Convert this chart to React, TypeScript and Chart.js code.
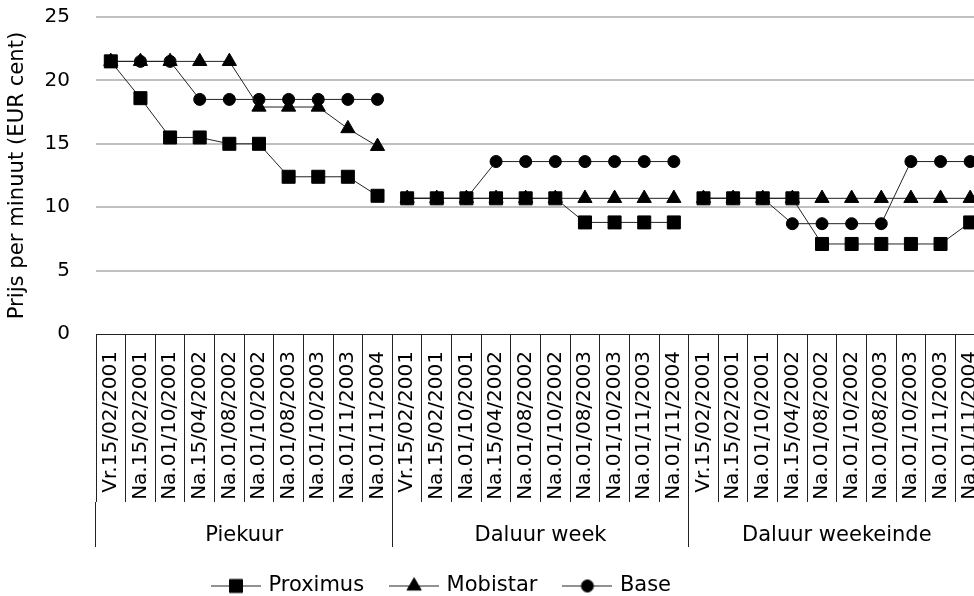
import React, { useEffect, useRef } from 'react';
import { Chart, registerables } from 'chart.js';
import { drawPoint } from 'chart.js/helpers';

Chart.register(...registerables);

// ---- data ----
const dateLabels = [
  'Vr.15/02/2001',
  'Na.15/02/2001',
  'Na.01/10/2001',
  'Na.15/04/2002',
  'Na.01/08/2002',
  'Na.01/10/2002',
  'Na.01/08/2003',
  'Na.01/10/2003',
  'Na.01/11/2003',
  'Na.01/11/2004',
];
const groupLabels = ['Piekuur', 'Daluur week', 'Daluur weekeinde'];
const categories = [...dateLabels, ...dateLabels, ...dateLabels];

const proximus = [
  21.5, 18.6, 15.5, 15.5, 15.0, 15.0, 12.4, 12.4, 12.4, 10.9,
  10.7, 10.7, 10.7, 10.7, 10.7, 10.7, 8.8, 8.8, 8.8, 8.8,
  10.7, 10.7, 10.7, 10.7, 7.1, 7.1, 7.1, 7.1, 7.1, 8.8,
];
const mobistar = [
  21.5, 21.5, 21.5, 21.5, 21.5, 17.9, 17.9, 17.9, 16.2, 14.8,
  10.7, 10.7, 10.7, 10.7, 10.7, 10.7, 10.7, 10.7, 10.7, 10.7,
  10.7, 10.7, 10.7, 10.7, 10.7, 10.7, 10.7, 10.7, 10.7, 10.7,
];
const base = [
  21.5, 21.5, 21.5, 18.5, 18.5, 18.5, 18.5, 18.5, 18.5, 18.5,
  10.7, 10.7, 10.7, 13.6, 13.6, 13.6, 13.6, 13.6, 13.6, 13.6,
  10.7, 10.7, 10.7, 8.7, 8.7, 8.7, 8.7, 13.6, 13.6, 13.6,
];
const yMin = 0;
const yMax = 25;
const yStep = 5;
const yTitle = 'Prijs per minuut (EUR cent)';

// ---- styles ----
const FONT = 'DejaVu Sans';
const LINE_COLOR = '#222222';
const GROUP_SIZE = dateLabels.length;

const seriesStyles = [
  { label: 'Proximus', data: proximus, pointStyle: 'rect', radius: 9.2 },
  { label: 'Mobistar', data: mobistar, pointStyle: 'triangle', radius: 8.2 },
  { label: 'Base', data: base, pointStyle: 'circle', radius: 6 },
];

function makeLegendIcon(pointStyle: string, radius: number): HTMLCanvasElement {
  const c = document.createElement('canvas');
  c.width = 50;
  c.height = 20;
  const ctx = c.getContext('2d')!;
  ctx.strokeStyle = LINE_COLOR;
  ctx.lineWidth = 1;
  ctx.beginPath();
  ctx.moveTo(0, 10.5);
  ctx.lineTo(50, 10.5);
  ctx.stroke();
  ctx.fillStyle = '#000';
  ctx.strokeStyle = '#000';
  ctx.lineWidth = 1;
  drawPoint(ctx, { pointStyle, radius, rotation: 0, borderWidth: 1 } as any, 25, 10.5);
  return c;
}

const legendCenterPlugin = {
  id: 'legendCenter',
  afterLayout(chart: any) {
    const lg = chart.legend;
    if (!lg) return;
    const half = (lg.right - lg.left) / 2;
    const center = 442.5;
    lg.left = center - half;
    lg.right = center + half;
  },
};

export default function App() {
  const ref = useRef<HTMLCanvasElement | null>(null);

  useEffect(() => {
    if (!ref.current) return;
    const icons = seriesStyles.map((s) => makeLegendIcon(s.pointStyle, s.radius));
    const chart = new Chart(ref.current, {
      type: 'line',
      data: {
        labels: categories,
        datasets: seriesStyles.map((s) => ({
          label: s.label,
          data: s.data,
          borderColor: LINE_COLOR,
          borderWidth: 1,
          tension: 0,
          fill: false,
          pointStyle: s.pointStyle as any,
          pointRadius: s.radius,
          pointHoverRadius: s.radius,
          pointBackgroundColor: '#000',
          pointBorderColor: '#000',
          pointBorderWidth: 1,
          segment: {
            borderColor: (ctx: any) =>
              ctx.p1DataIndex % GROUP_SIZE === 0 ? 'rgba(0,0,0,0)' : LINE_COLOR,
          },
        })),
      },
      options: {
        animation: false,
        responsive: true,
        maintainAspectRatio: false,
        layout: { padding: { left: 0, right: 15, top: 17, bottom: 0 } },
        plugins: {
          tooltip: { enabled: false },
          legend: {
            position: 'bottom',
            labels: {
              usePointStyle: true,
              pointStyleWidth: 44,
              padding: 28,
              color: '#000',
              font: { family: FONT, size: 21 },
              generateLabels: (ch: any) =>
                ch.data.datasets.map((ds: any, i: number) => ({
                  text: ds.label,
                  pointStyle: icons[i],
                  fillStyle: '#000',
                  strokeStyle: '#000',
                  lineWidth: 0,
                  hidden: false,
                  datasetIndex: i,
                  fontColor: '#000',
                })),
            },
          },
        },
        scales: {
          x: {
            type: 'category',
            position: 'bottom',
            weight: 0,
            offset: true,
            grid: {
              display: true,
              drawOnChartArea: false,
              offset: true,
              tickLength: 168,
              color: LINE_COLOR,
              lineWidth: 1,
            },
            border: { display: true, color: LINE_COLOR, width: 1 },
            ticks: {
              autoSkip: false,
              minRotation: 90,
              maxRotation: 90,
              padding: -151,
              color: '#000',
              font: { family: FONT, size: 20 },
            },
            afterFit: (s: any) => {
              s.height = 168;
            },
          },
          x2: {
            type: 'category',
            position: 'bottom',
            weight: 1,
            labels: groupLabels,
            offset: true,
            grid: {
              display: true,
              drawOnChartArea: false,
              offset: true,
              tickLength: 45,
              color: LINE_COLOR,
              lineWidth: 1,
            },
            border: { display: false },
            ticks: {
              autoSkip: false,
              minRotation: 0,
              maxRotation: 0,
              padding: -24,
              color: '#000',
              font: { family: FONT, size: 21 },
            },
            afterFit: (s: any) => {
              s.height = 45;
            },
          },
          y: {
            min: yMin,
            max: yMax,
            ticks: {
              stepSize: yStep,
              padding: 0,
              color: '#000',
              font: { family: FONT, size: 20 },
            },
            grid: {
              color: (ctx: any) => (ctx.tick && ctx.tick.value === 0 ? 'rgba(0,0,0,0)' : '#c0c0c0'),
              lineWidth: 2,
              drawTicks: true,
              tickLength: 26,
              tickColor: 'rgba(0,0,0,0)',
            },
            border: { display: false },
            title: {
              display: true,
              text: yTitle,
              color: '#000',
              font: { family: FONT, size: 21.2 },
              padding: { top: 5, bottom: 0 },
            },
            afterFit: (s: any) => {
              s.width = 96;
            },
          },
        },
      },
      plugins: [legendCenterPlugin],
    });
    return () => chart.destroy();
  }, []);

  return (
    <div
      style={{
        position: 'absolute',
        left: 0,
        top: 0,
        width: 974,
        height: 596,
        overflow: 'hidden',
        background: '#fff',
      }}
    >
      <div style={{ position: 'relative', width: 1000, height: 606 }}>
        <canvas ref={ref} />
      </div>
    </div>
  );
}
